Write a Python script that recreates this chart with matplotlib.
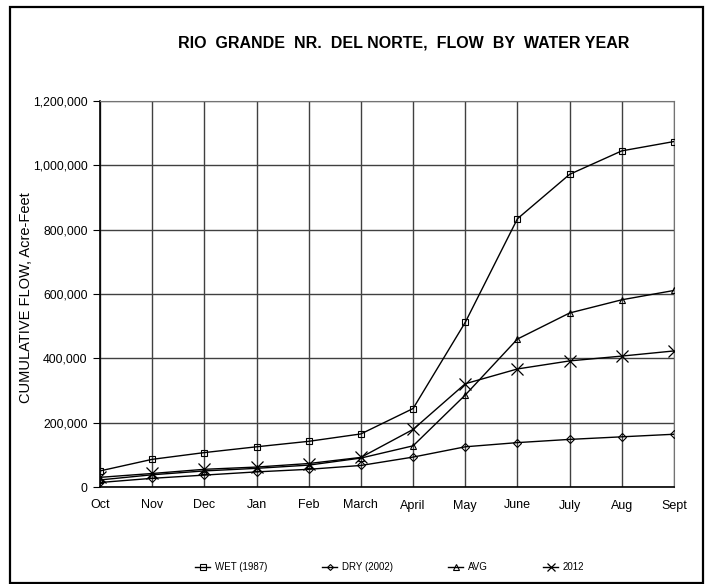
import matplotlib
matplotlib.use("Agg")
import matplotlib.pyplot as plt
from matplotlib.patches import Rectangle
from matplotlib.ticker import FuncFormatter

months = ["Oct", "Nov", "Dec", "Jan", "Feb", "March", "April", "May", "June", "July", "Aug", "Sept"]

# cumulative flow, acre-feet
wet_1987 = [50000, 86000, 107000, 125000, 142000, 165000, 244000, 512000, 834000, 972000, 1045000, 1074000]
dry_2002 = [14000, 27000, 37000, 47000, 55000, 67000, 93000, 125000, 138000, 148000, 156000, 164000]
avg = [22000, 38000, 50000, 58000, 68000, 90000, 128000, 286000, 460000, 541000, 582000, 611000]
y2012 = [30000, 42000, 55000, 62000, 73000, 92000, 179000, 321000, 367000, 392000, 407000, 423000]

plt.rcParams["font.family"] = ["Liberation Sans", "DejaVu Sans"]

fig = plt.figure(figsize=(7.07, 5.84), dpi=100)
ax = fig.add_axes([100 / 707, 1 - 487 / 584, 574 / 707, 386 / 584])

x = list(range(len(months)))
lines = []
lines += ax.plot(x, wet_1987, color="black", lw=1, marker="s", ms=5, mfc="none", mec="black", mew=0.8, label="WET (1987)", zorder=3)
lines += ax.plot(x, dry_2002, color="black", lw=1, marker="D", ms=4, mfc="none", mec="black", mew=0.8, label="DRY (2002)", zorder=3)
lines += ax.plot(x, avg, color="black", lw=1, marker="^", ms=5, mfc="none", mec="black", mew=0.8, label="AVG", zorder=3)
lines += ax.plot(x, y2012, color="black", lw=1, marker="x", ms=8.5, mec="black", mew=0.9, label="2012", zorder=3)

ax.set_xlim(0, len(months) - 1)
ax.set_ylim(0, 1200000)
ax.set_xticks(x)
ax.set_xticklabels(months)
ax.set_yticks(range(0, 1200001, 200000))
ax.yaxis.set_major_formatter(FuncFormatter(lambda v, p: f"{int(v):,}"))
ax.tick_params(axis="x", length=0, pad=9, labelsize=9)
ax.tick_params(axis="y", length=5, width=0.8, direction="out", pad=4, labelsize=8.8)

ax.grid(True, color="0.25", lw=1)
ax.set_axisbelow(True)
for side in ["top", "right"]:
    ax.spines[side].set_color("0.45")
for side in ["left", "bottom"]:
    ax.spines[side].set_color("black")
    ax.spines[side].set_linewidth(1.2)

ax.set_ylabel("CUMULATIVE FLOW, Acre-Feet", fontsize=10.5)
ax.yaxis.set_label_coords((33 - 100) / 574, 0.49)

fig.text(404 / 707, 1 - 42.5 / 584, "RIO  GRANDE  NR.  DEL NORTE,  FLOW  BY  WATER YEAR",
         ha="center", va="center", fontsize=11.5, fontweight="bold")

# legend entries sit at uneven spacing, one small legend per series
legend_x = [195, 322, 448, 543]
for line, lx in zip(lines, legend_x):
    fig.legend(handles=[line], loc="center left", bbox_to_anchor=(lx / 707, 1 - 567 / 584),
               frameon=False, fontsize=7, handlelength=1.55, handletextpad=0.5,
               borderpad=0, borderaxespad=0, markerscale=0.75)

fig.patches.append(Rectangle((9.5 / 707, 1 / 584), 693 / 707, 576 / 584, transform=fig.transFigure,
                             fill=False, edgecolor="black", lw=1.6))

fig.savefig("out.png", dpi=100)
